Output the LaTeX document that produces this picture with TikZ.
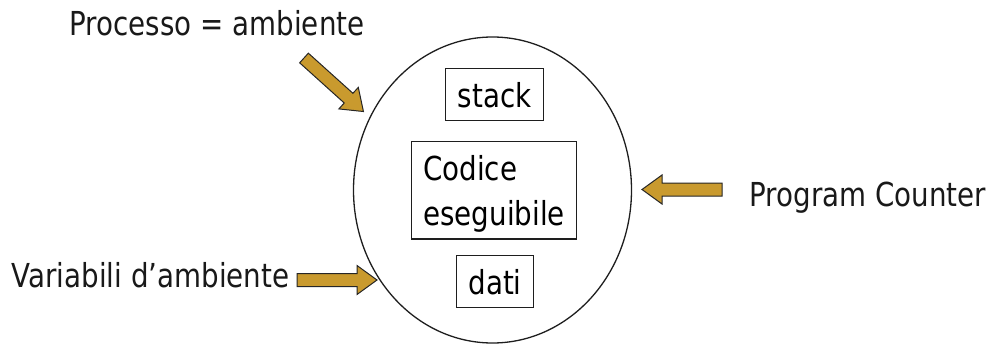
\documentclass[tikz,border=0pt]{standalone}
\usepackage{fontspec}
\setmainfont{DejaVu Sans}[FakeStretch=0.84]
\usetikzlibrary{shapes.geometric}

\definecolor{arrowgold}{RGB}{201,154,46}
\definecolor{inkline}{RGB}{30,30,30}

\tikzset{
  txt/.style={inner sep=0pt, anchor=base west, text=black!90},
  membox/.style={draw=inkline, line width=1.2pt, inner xsep=0pt, inner ysep=0pt,
                 anchor=north west, text height=39pt, text depth=13pt},
  blockfill/.style={fill=arrowgold, draw=black!85, line width=1pt, line join=miter},
  pics/blockarrow/.style={code={
    \draw[blockfill] (0,-6.5) -- (60,-6.5) -- (60,-14.5) -- (80,0)
                     -- (60,14.5) -- (60,6.5) -- (0,6.5) -- cycle;
  }}
}

\begin{document}
\begin{tikzpicture}[x=1pt, y=-1pt,
    every node/.append style={font=\fontsize{33pt}{45pt}\selectfont}]
  \useasboundingbox (0,0) rectangle (997,345);

  % the process as an ellipse
  \node[draw=inkline, line width=1.3pt, ellipse, inner sep=0pt,
        minimum width=278pt, minimum height=306pt] (proc) at (492.5,190) {};

  % memory areas inside the process
  \node[membox, minimum width=98pt] (stack) at (445,68) {stack};
  \node[membox, minimum width=165pt, align=left,
        text height=83.8pt, text depth=13.8pt] (code) at (411,140.7)
        {Codice\\eseguibile};
  \node[membox, minimum width=77pt] (data) at (456,255) {dati};

  % outside labels
  \node[txt] (envlabel) at (69.5,35.5) {Processo = ambiente};
  \node[txt] (pclabel) at (749.5,206.5) {Program Counter};
  \node[txt] (varlabel) at (11.5,287.5) {Variabili d’ambiente};

  % block arrows pointing at the process
  \pic[rotate=-42] (envarrow) at (304,58) {blockarrow};
  \pic[rotate=180] (pcarrow) at (722,189.5) {blockarrow};
  \pic (vararrow) at (297,280) {blockarrow};
\end{tikzpicture}
\end{document}
